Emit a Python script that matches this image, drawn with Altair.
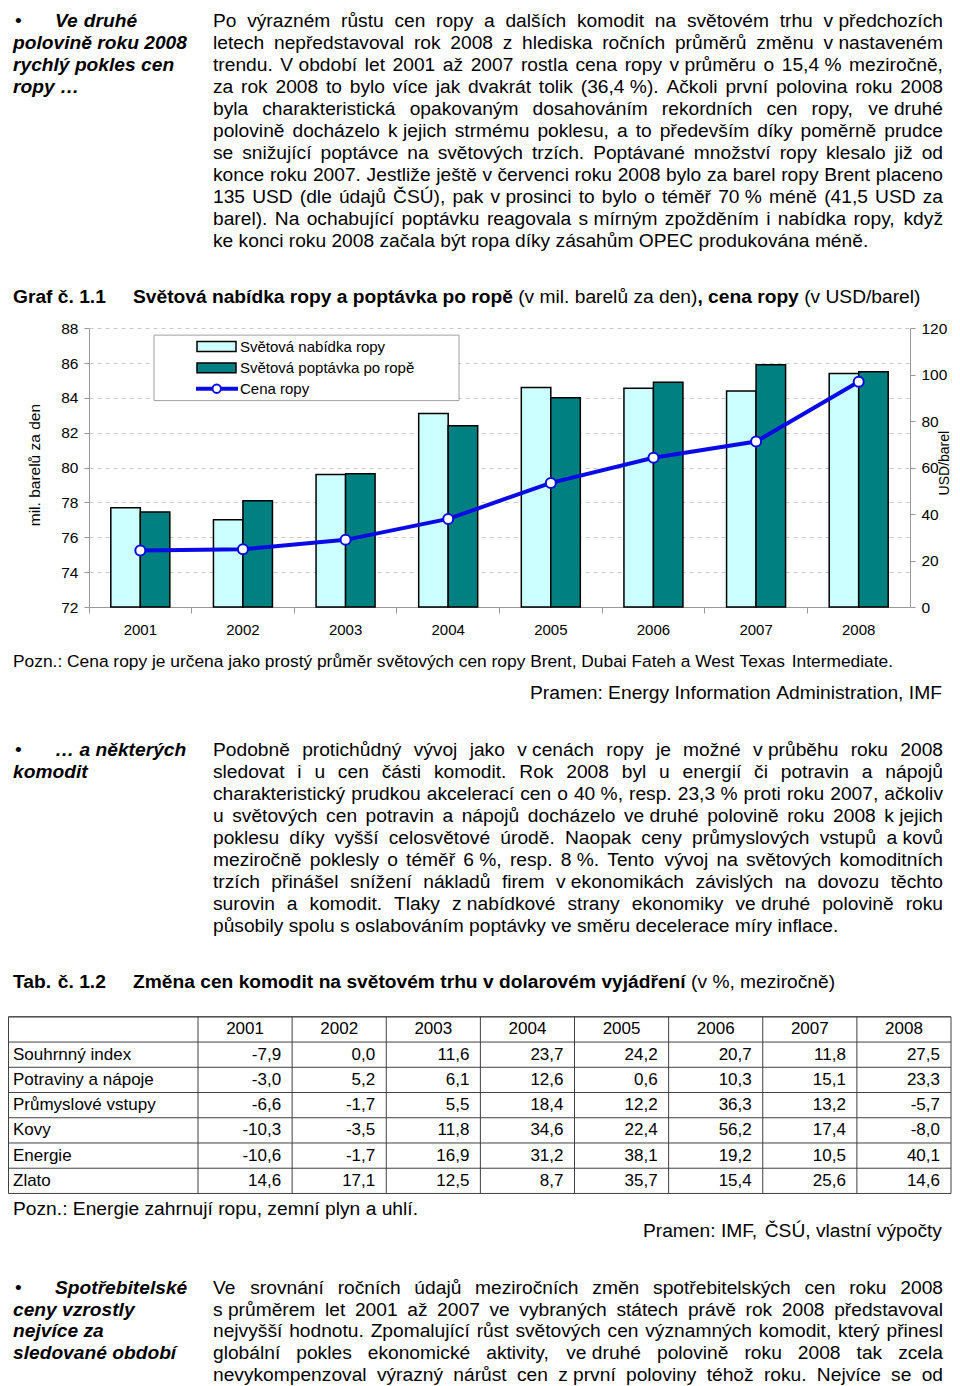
import unicodedata
import pandas as pd
import altair as alt

F = "Liberation Sans, Arial, Helvetica, sans-serif"
BLUE = "#0A0AE6"

# ---------------- chart data ----------------
YEARS = ["2001", "2002", "2003", "2004", "2005", "2006", "2007", "2008"]
SUPPLY = [77.7, 77.0, 79.6, 83.1, 84.6, 84.55, 84.4, 85.4]
DEMAND = [77.45, 78.1, 79.65, 82.4, 84.0, 84.9, 85.9, 85.5]
PRICE = [24.3, 24.9, 28.9, 37.9, 53.4, 64.2, 71.2, 96.9]
LEFT_TICKS = [72, 74, 76, 78, 80, 82, 84, 86, 88]
RIGHT_TICKS = [0, 20, 40, 60, 80, 100, 120]
LEGEND_LABELS = ["Světová nabídka ropy", "Světová poptávka po ropě", "Cena ropy"]

# ---------------- table data ----------------
TABLE_ROWS = ["Souhrnný index", "Potraviny a nápoje", "Průmyslové vstupy", "Kovy", "Energie", "Zlato"]
T_SOUHRNNY = [-7.9, 0.0, 11.6, 23.7, 24.2, 20.7, 11.8, 27.5]
T_POTRAVINY = [-3.0, 5.2, 6.1, 12.6, 0.6, 10.3, 15.1, 23.3]
T_PRUMYSL = [-6.6, -1.7, 5.5, 18.4, 12.2, 36.3, 13.2, -5.7]
T_KOVY = [-10.3, -3.5, 11.8, 34.6, 22.4, 56.2, 17.4, -8.0]
T_ENERGIE = [-10.6, -1.7, 16.9, 31.2, 38.1, 19.2, 10.5, 40.1]
T_ZLATO = [14.6, 17.1, 12.5, 8.7, 35.7, 15.4, 25.6, 14.6]

# ---------------- texts ("~" = non-breaking space) ----------------
SIDE1 = ["Ve druhé", "polovině roku 2008", "rychlý pokles cen", "ropy …"]
PARA1 = [
    "Po výrazném růstu cen ropy a dalších komodit na světovém trhu v~předchozích",
    "letech nepředstavoval rok 2008 z hlediska ročních průměrů změnu v~nastaveném",
    "trendu. V~období let 2001 až 2007 rostla cena ropy v~průměru o 15,4~% meziročně,",
    "za rok 2008 to bylo více jak dvakrát tolik (36,4~%). Ačkoli první polovina roku 2008",
    "byla charakteristická opakovaným dosahováním rekordních cen ropy, ve~druhé",
    "polovině docházelo k~jejich strmému poklesu, a to především díky poměrně prudce",
    "se snižující poptávce na světových trzích. Poptávané množství ropy klesalo již od",
    "konce roku 2007. Jestliže ještě v~červenci roku 2008 bylo za barel ropy Brent placeno",
    "135 USD (dle údajů ČSÚ), pak v~prosinci to bylo o téměř 70~% méně (41,5 USD za",
    "barel). Na ochabující poptávku reagovala s~mírným zpožděním i nabídka ropy, když",
    "ke konci roku 2008 začala být ropa díky zásahům OPEC produkována méně.",
]
CHART_LABEL = "Graf č. 1.1"
CHART_TITLE = [("Světová nabídka ropy a poptávka po ropě", "b"), (" (v mil. barelů za den)", "n"),
               (", cena ropy", "b"), (" (v USD/barel)", "n")]
Y_TITLE_LEFT = "mil. barelů za den"
Y_TITLE_RIGHT = "USD/barel"
NOTE1 = "Pozn.: Cena ropy je určena jako prostý průměr světových cen ropy Brent, Dubai Fateh a West Texas Intermediate."
SOURCE1 = "Pramen: Energy Information Administration, IMF"
SIDE2 = ["… a některých", "komodit"]
PARA2 = [
    "Podobně protichůdný vývoj jako v~cenách ropy je možné v~průběhu roku 2008",
    "sledovat i u cen části komodit. Rok 2008 byl u energií či potravin a nápojů",
    "charakteristický prudkou akcelerací cen o 40~%, resp. 23,3~% proti roku 2007, ačkoliv",
    "u světových cen potravin a nápojů docházelo ve~druhé polovině roku 2008 k~jejich",
    "poklesu díky vyšší celosvětové úrodě. Naopak ceny průmyslových vstupů a~kovů",
    "meziročně poklesly o téměř 6~%, resp. 8~%. Tento vývoj na světových komoditních",
    "trzích přinášel snížení nákladů firem v~ekonomikách závislých na dovozu těchto",
    "surovin a komodit. Tlaky z~nabídkové strany ekonomiky ve~druhé polovině roku",
    "působily spolu s oslabováním poptávky ve směru decelerace míry inflace.",
]
TABLE_LABEL = "Tab. č. 1.2"
TABLE_TITLE = [("Změna cen komodit na světovém trhu v dolarovém vyjádření", "b"), (" (v %, meziročně)", "n")]
NOTE2 = "Pozn.: Energie zahrnují ropu, zemní plyn a uhlí."
SOURCE2 = "Pramen: IMF, ČSÚ, vlastní výpočty"
SIDE3 = ["Spotřebitelské", "ceny vzrostly", "nejvíce za", "sledované období"]
PARA3 = [
    "Ve srovnání ročních údajů meziročních změn spotřebitelských cen roku 2008",
    "s~průměrem let 2001 až 2007 ve vybraných státech právě rok 2008 představoval",
    "nejvyšší hodnotu. Zpomalující růst světových cen významných komodit, který přinesl",
    "globální pokles ekonomické aktivity, ve~druhé polovině roku 2008 tak zcela",
    "nevykompenzoval výrazný nárůst cen z~první poloviny téhož roku. Nejvíce se od",
]

# ---------------- page geometry ----------------
W, H = 944, 1378
KY = (1373.0 - 18.5) / (1381.0 - 16.0)


def VX(x):
    return x - 8


def VY(y):
    return 18.5 + (y - 16.0) * KY


# Arial / Liberation Sans advance widths (1/1000 em)
REG = {" ": 278, "~": 278, "!": 278, "%": 889, "(": 333, ")": 333, ",": 278, "-": 333, ".": 278,
       "/": 278, ":": 278, ";": 278, "…": 1000, "•": 350, "í": 278}
BOLD = {" ": 278, "~": 278, "!": 333, "%": 889, "(": 333, ")": 333, ",": 278, "-": 333, ".": 278,
        "/": 278, ":": 333, ";": 333, "…": 1000, "•": 350, "í": 278}
for d in "0123456789":
    REG[d] = 556
    BOLD[d] = 556
UP_R = [667, 667, 722, 722, 667, 611, 778, 722, 278, 500, 667, 556, 833, 722, 778, 667, 778, 722, 667, 611, 722, 667, 944, 667, 667, 611]
LO_R = [556, 556, 500, 556, 556, 278, 556, 556, 222, 222, 500, 222, 833, 556, 556, 556, 556, 333, 500, 278, 556, 500, 722, 500, 500, 500]
UP_B = [722, 722, 722, 722, 667, 611, 778, 722, 278, 556, 722, 611, 833, 722, 778, 667, 778, 722, 667, 611, 722, 667, 944, 667, 667, 611]
LO_B = [556, 611, 556, 611, 556, 333, 611, 611, 278, 278, 556, 278, 889, 611, 611, 611, 611, 389, 556, 333, 611, 556, 778, 556, 556, 500]
for i in range(26):
    REG[chr(65 + i)] = UP_R[i]
    REG[chr(97 + i)] = LO_R[i]
    BOLD[chr(65 + i)] = UP_B[i]
    BOLD[chr(97 + i)] = LO_B[i]


def em_width(t, s):
    table = BOLD if s in ("b", "bi") else REG
    w = 0
    for ch in t:
        if ch in table:
            w += table[ch]
        else:
            w += table.get(unicodedata.normalize("NFD", ch)[0], 556)
    return w / 1000.0


TEXT = []


def add_runs(runs, x, y, fs, justify_to=None, align="left"):
    tokens = []
    gap = False
    for text, s in runs:
        new = True
        for ch in text:
            if ch == " ":
                gap = True
                new = True
                continue
            if new:
                tokens.append([ch, s, gap and len(tokens) > 0])
                gap = False
                new = False
            else:
                tokens[-1][0] += ch
    widths = [em_width(t, s) * fs for t, s, g in tokens]
    sp = 0.278 * fs
    ng = sum(1 for t in tokens if t[2])
    if justify_to is not None and ng:
        sp = max(0.15 * fs, (justify_to - x - sum(widths)) / ng)
    total = sum(widths) + sp * ng
    cx = x - total if align == "right" else x
    for (t, s, g), w in zip(tokens, widths):
        if g:
            cx += sp
        TEXT.append(dict(x=VX(cx), y=VY(y), t=t.replace("~", "\u00a0"), s=s, fs=fs))
        cx += w


def fit(text, width, s="n"):
    return width / em_width(text, s)


FS = 19.2
LH = 22.2
PX0, PX1 = 213, 943


def paragraph(lines, y0, justify_last=False, step=LH):
    for k, line in enumerate(lines):
        last = k == len(lines) - 1
        add_runs([(line, "n")], PX0, y0 + k * step, FS,
                 justify_to=None if (last and not justify_last) else PX1)


def side(lines, y0, step=LH):
    add_runs([("•", "n")], 15, y0, FS)
    for k, line in enumerate(lines):
        add_runs([(line, "bi")], 55 if k == 0 else 13, y0 + k * step, FS)


# section 1
side(SIDE1, 16)
paragraph(PARA1, 16)
add_runs([(CHART_LABEL, "b")], 13, 295, FS)
add_runs(CHART_TITLE, 133, 295, FS)
# legend texts
for lbl, yb in zip(LEGEND_LABELS, [343.7, 365.4, 386.4]):
    add_runs([(lbl, "n")], 240, yb, 15)
# notes
add_runs([(NOTE1, "n")], 13, 661, fit(NOTE1, 880))
add_runs([(SOURCE1, "n")], 942, 694, fit(SOURCE1, 412), align="right")
# section 2
side(SIDE2, 751)
paragraph(PARA2, 751)
add_runs([(TABLE_LABEL, "b")], 13, 985, FS)
add_runs(TABLE_TITLE, 133, 985, FS)
add_runs([(NOTE2, "n")], 13, 1214, fit(NOTE2, 405))
add_runs([(SOURCE2, "n")], 942, 1236, fit(SOURCE2, 299), align="right")
# section 3
side(SIDE3, 1293, step=22.0)
paragraph(PARA3, 1293, justify_last=True, step=22.0)

text_df = pd.DataFrame(TEXT)


def text_layer(style):
    weight = "bold" if style in ("b", "bi") else "normal"
    fstyle = "italic" if style == "bi" else "normal"
    return alt.Chart(text_df[text_df.s == style]).mark_text(
        align="left", baseline="alphabetic", font=F, fontWeight=weight, fontStyle=fstyle, color="black"
    ).encode(
        x=alt.X("x:Q", scale=None, axis=None),
        y=alt.Y("y:Q", scale=None, axis=None),
        text="t:N",
        size=alt.Size("fs:Q", scale=None, legend=None),
    )


text_layers = [text_layer(s) for s in ("n", "b", "bi")]

# ---------------- chart ----------------
X_RANGE = [VX(89), VX(910)]
Y_RANGE = [VY(601), VY(320)]
chart_df = pd.DataFrame({"year": YEARS, "supply": SUPPLY, "demand": DEMAND, "price": PRICE,
                         "base": [LEFT_TICKS[0]] * len(YEARS)})
xs = alt.Scale(domain=YEARS, range=X_RANGE, paddingInner=0, paddingOuter=0)
ys = alt.Scale(domain=[LEFT_TICKS[0], LEFT_TICKS[-1]], range=Y_RANGE, zero=False, nice=False)
ps = alt.Scale(domain=[RIGHT_TICKS[0], RIGHT_TICKS[-1]], range=Y_RANGE, nice=False)

OFF_LEFT = -X_RANGE[0]
OFF_RIGHT = -(W - X_RANGE[1])
OFF_BOTTOM = -(H - Y_RANGE[0])
AX = "#999999"

supply_bars = alt.Chart(chart_df).mark_bar(
    width=29.5, xOffset=-14.75, fill="#CCFFFF", stroke="black", strokeWidth=1.5
).encode(
    x=alt.X("year:N", scale=xs, axis=alt.Axis(
        orient="bottom", offset=OFF_BOTTOM, ticks=False, tickSize=0, domainColor=AX, labelFontSize=15,
        labelFont=F, labelColor="black", labelAngle=0, labelPadding=15, title=None)),
    y=alt.Y("supply:Q", scale=ys, axis=alt.Axis(
        orient="left", offset=OFF_LEFT, values=LEFT_TICKS, grid=True, gridDash=[4, 4],
        gridColor="#c8c8c8", domainColor=AX, tickColor=AX, tickSize=5, labelPadding=6,
        labelFontSize=15.5, labelFont=F, labelColor="black", title=None)),
    y2="base:Q",
)
demand_bars = alt.Chart(chart_df).mark_bar(
    width=29.5, xOffset=14.75, fill="#008080", stroke="black", strokeWidth=1.5
).encode(
    x=alt.X("year:N", scale=xs, axis=alt.Axis(
        orient="bottom", offset=OFF_BOTTOM, labels=False, domain=False, ticks=True, tickSize=6,
        tickColor=AX, bandPosition=0, title=None)),
    y=alt.Y("demand:Q", scale=ys, axis=None),
    y2="base:Q",
)
price_line = alt.Chart(chart_df).mark_line(color=BLUE, strokeWidth=4).encode(
    x=alt.X("year:N", scale=xs, axis=None),
    y=alt.Y("price:Q", scale=ps, axis=alt.Axis(
        orient="right", offset=OFF_RIGHT, values=RIGHT_TICKS, grid=False, domainColor=AX,
        tickColor=AX, tickSize=5, labelPadding=6, labelFontSize=15.5, labelFont=F,
        labelColor="black", title=None)),
)
price_pts = alt.Chart(chart_df).mark_point(
    filled=True, fill="white", stroke=BLUE, strokeWidth=2, size=100, opacity=1
).encode(
    x=alt.X("year:N", scale=xs, axis=None),
    y=alt.Y("price:Q", scale=ps, axis=None),
)

one = pd.DataFrame({"a": [0]})
y_title_l = alt.Chart(one).mark_text(angle=270, align="center", baseline="middle", font=F,
                                     fontSize=15.5, color="black").encode(
    x=alt.value(VX(35)), y=alt.value(VY(458)), text=alt.value(Y_TITLE_LEFT))
y_title_r = alt.Chart(one).mark_text(angle=270, align="center", baseline="middle", font=F,
                                     fontSize=14, color="black").encode(
    x=alt.value(W - 7.5), y=alt.value(VY(456)), text=alt.value(Y_TITLE_RIGHT))

# legend
leg_box = alt.Chart(one).mark_rect(fill="white", stroke="#a0a0a0", strokeWidth=1).encode(
    x=alt.value(VX(154)), x2=alt.value(VX(459)), y=alt.value(VY(327)), y2=alt.value(VY(393)))
leg_sw1 = alt.Chart(one).mark_rect(fill="#CCFFFF", stroke="black", strokeWidth=1.5).encode(
    x=alt.value(VX(197)), x2=alt.value(VX(236)), y=alt.value(VY(333.5)), y2=alt.value(VY(343.5)))
leg_sw2 = alt.Chart(one).mark_rect(fill="#008080", stroke="black", strokeWidth=1.5).encode(
    x=alt.value(VX(197)), x2=alt.value(VX(236)), y=alt.value(VY(355)), y2=alt.value(VY(365)))
leg_line = alt.Chart(one).mark_rule(color=BLUE, strokeWidth=4).encode(
    x=alt.value(VX(196)), x2=alt.value(VX(238)), y=alt.value(VY(381)))
leg_pt = alt.Chart(one).mark_point(filled=True, fill="white", stroke=BLUE, strokeWidth=2,
                                   size=70, opacity=1).encode(
    x=alt.value(VX(216.7)), y=alt.value(VY(381)))

# ---------------- table ----------------
T_SERIES = [T_SOUHRNNY, T_POTRAVINY, T_PRUMYSL, T_KOVY, T_ENERGIE, T_ZLATO]
HDR = "_hdr"
cells = []
for lbl, vals in zip(TABLE_ROWS, T_SERIES):
    for yr, v in zip(YEARS, vals):
        cells.append(dict(row=lbl, year=yr, val=f"{v:.1f}".replace(".", ",")))
cells_df = pd.DataFrame(cells)
hdr_df = pd.DataFrame({"row": [HDR] * len(YEARS), "year": YEARS})
lab_df = pd.DataFrame({"row": TABLE_ROWS})
rows_all = pd.DataFrame({"row": [HDR] + TABLE_ROWS})
years_df = pd.DataFrame({"year": YEARS})

T_X0, T_X1 = 0.5, 943.0
T_COL0 = VX(198)
T_Y0, T_Y1 = VY(1014), VY(1192)
tx = alt.Scale(domain=YEARS, range=[T_COL0, T_X1], paddingInner=0, paddingOuter=0)
ty = alt.Scale(domain=[HDR] + TABLE_ROWS, range=[T_Y0, T_Y1], paddingInner=0, paddingOuter=0)
band_w = (T_X1 - T_COL0) / len(YEARS)
TFS = 17
LINE_C = "#404040"

t_vals = alt.Chart(cells_df).mark_text(align="right", baseline="middle", dx=band_w / 2 - 11,
                                       font=F, fontSize=TFS, color="black").encode(
    x=alt.X("year:N", scale=tx, axis=None), y=alt.Y("row:N", scale=ty, axis=None), text="val:N")
t_hdr = alt.Chart(hdr_df).mark_text(align="center", baseline="middle", font=F, fontSize=TFS,
                                    color="black").encode(
    x=alt.X("year:N", scale=tx, axis=None), y=alt.Y("row:N", scale=ty, axis=None), text="year:N")
t_lab = alt.Chart(lab_df).mark_text(align="left", baseline="middle", font=F, fontSize=TFS,
                                    color="black").encode(
    x=alt.value(VX(13)), y=alt.Y("row:N", scale=ty, axis=None), text="row:N")
t_hlines = alt.Chart(rows_all).mark_rule(color=LINE_C, strokeWidth=1).encode(
    y=alt.Y("row:N", scale=ty, bandPosition=0, axis=None), x=alt.value(T_X0), x2=alt.value(T_X1))
t_vlines = alt.Chart(years_df).mark_rule(color=LINE_C, strokeWidth=1).encode(
    x=alt.X("year:N", scale=tx, bandPosition=0, axis=None), y=alt.value(T_Y0), y2=alt.value(T_Y1))
t_border = alt.Chart(one).mark_rect(fill=None, stroke=LINE_C, strokeWidth=1).encode(
    x=alt.value(T_X0), x2=alt.value(T_X1), y=alt.value(T_Y0), y2=alt.value(T_Y1))

layers = [
    supply_bars, demand_bars, price_line, price_pts, y_title_l, y_title_r,
    leg_box, leg_sw1, leg_sw2, leg_line, leg_pt,
    t_hlines, t_vlines, t_border, t_vals, t_hdr, t_lab,
] + text_layers

chart = alt.layer(*layers).resolve_scale(
    x="independent", y="independent"
).properties(
    width=W, height=H, padding=0, autosize=alt.AutoSizeParams(type="none")
).configure_view(stroke=None)

chart.save("out.html", embed_options={"renderer": "svg", "actions": False})
